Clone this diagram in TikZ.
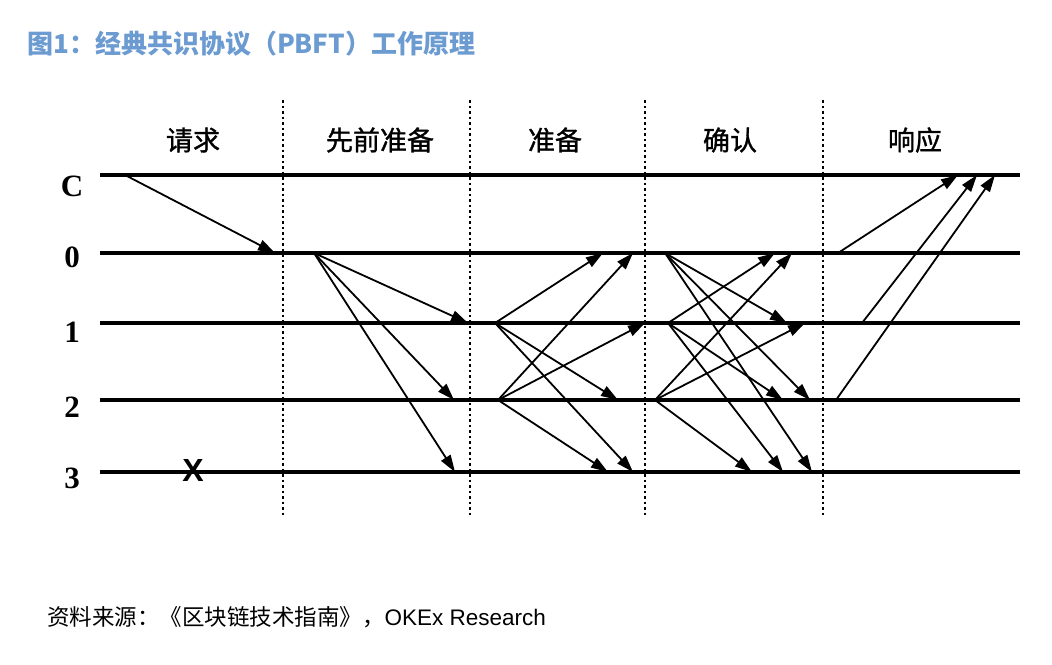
\documentclass[tikz,border=0pt]{standalone}
\usepackage{fontspec}
\setmainfont{Liberation Serif}
\newfontfamily\cjk{Noto Sans CJK SC}
\newfontfamily\cjkmid[FakeBold=1.2]{Noto Sans CJK SC}
\newfontfamily\latinsans{Liberation Sans}
\usetikzlibrary{arrows.meta}
\definecolor{titleblue}{HTML}{6B9BD1}
\tikzset{
  track/.style={line width=3.8pt},
  divider/.style={line width=2pt, dash pattern=on 2.5pt off 3pt},
  msg/.style={-{Triangle[length=17pt,width=11pt]}, line width=1.8pt},
  replica/.style={font=\bfseries\fontsize{31}{31}\selectfont, anchor=base, inner sep=0pt},
  stage/.style={font=\cjkmid\fontsize{27}{27}\selectfont, inner sep=0pt},
}
\begin{document}
\begin{tikzpicture}[x=1pt, y=-1pt]
        \useasboundingbox (0,0) rectangle (1052,664);
        \node[anchor=west, inner sep=0pt, text=titleblue, font=\cjk\bfseries\fontsize{26}{26}\selectfont] (title) at (27,44) {图1：经典共识协议（PBFT）工作原理};
        % replicas and their time lines
        \foreach \n/\y/\b in {C/175/196, 0/253/267, 1/323/342, 2/400/417, 3/472/488} {
          \node[replica] (lab\n) at (72,\b) {\n};
          \coordinate (\n-start) at (100,\y);
          \coordinate (\n-end) at (1020,\y);
          \draw[track] (\n-start) -- (\n-end);
        }
        % phase separators
        \foreach \x [count=\i] in {283,470,645,823} {
          \coordinate (sep\i-top) at (\x,100);
          \coordinate (sep\i-bot) at (\x,516);
          \draw[divider] (sep\i-top) -- (sep\i-bot);
        }
        \node[stage] (request) at (193,140) {请求};
        \node[stage] (preprepare) at (380,140) {先前准备};
        \node[stage] (prepare) at (555,140) {准备};
        \node[stage] (commit) at (730,140) {确认};
        \node[stage] (reply) at (915,140) {响应};
        % faulty replica
        \node[inner sep=0pt, font=\latinsans\bfseries\fontsize{32}{32}\selectfont] (fault) at (193,470) {X};
        % events on the time lines
        \foreach \e/\x/\r in {req-s/125/C, req-r/275/0,
            pp-s/314/0, pp-1/468/1, pp-2/454/2, pp-3/455/3,
            prep-1/495/1, prep-2/498/2,
            prep-10/603/0, prep-12/618/2, prep-13/633/3,
            prep-20/633/0, prep-21/645/1, prep-23/608/3,
            com-0/665/0, com-1/668/1, com-2/655/2,
            com-01/787/1, com-02/810/2, com-03/812/3,
            com-10/775/0, com-12/783/2, com-13/783/3,
            com-20/792/0, com-21/805/1, com-23/752/3,
            rep-0/838/0, rep-1/862/1, rep-2/836/2,
            rep-0c/958/C, rep-1c/977/C, rep-2c/995/C} {
          \coordinate (\e) at (\x,0 |- \r-start);
        }
        % messages
        \foreach \a/\b in {req-s/req-r,
            pp-s/pp-1, pp-s/pp-2, pp-s/pp-3,
            prep-1/prep-10, prep-1/prep-12, prep-1/prep-13,
            prep-2/prep-20, prep-2/prep-21, prep-2/prep-23,
            com-0/com-01, com-0/com-02, com-0/com-03,
            com-1/com-10, com-1/com-12, com-1/com-13,
            com-2/com-20, com-2/com-21, com-2/com-23,
            rep-0/rep-0c, rep-1/rep-1c, rep-2/rep-2c} {
          \draw[msg] (\a) -- (\b);
        }
        \node[anchor=west, inner sep=0pt, font=\fontsize{22.5}{22.5}\selectfont] (source) at (47,617) {\cjk 资料来源：《区块链技术指南》，\latinsans OKEx Research};
\end{tikzpicture}
\end{document}
